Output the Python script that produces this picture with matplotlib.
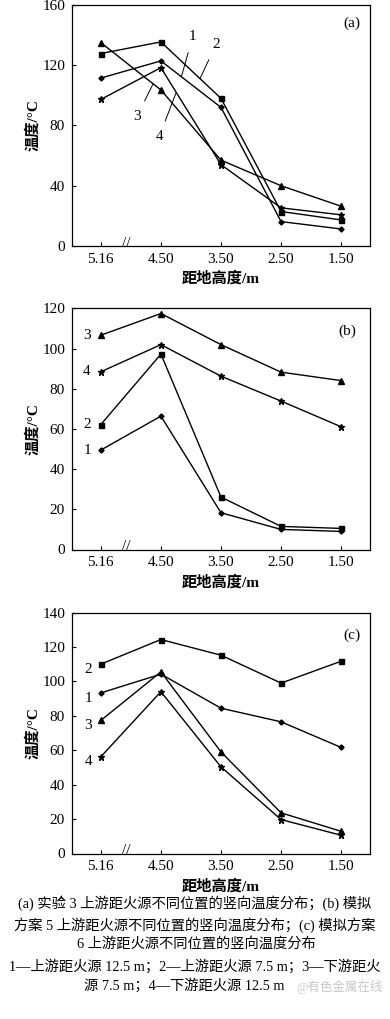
import numpy as np
import matplotlib
matplotlib.use('Agg')
import matplotlib.pyplot as plt
import matplotlib.transforms as mtransforms

plt.rcParams['font.family'] = ['Liberation Serif', 'Noto Sans CJK SC', 'DejaVu Sans']
plt.rcParams['axes.unicode_minus'] = False

# 横轴：距地高度 /m
heights = ['5.16', '4.50', '3.50', '2.50', '1.50']

# (a) 实验 3
a_s1 = [111.5, 122.9, 92.0, 16.2, 11.3]
a_s2 = [127.8, 135.5, 98.0, 22.9, 17.3]
a_s3 = [135.0, 103.6, 57.0, 40.0, 26.4]
a_s4 = [97.3, 118.4, 54.0, 25.3, 20.7]

# (b) 模拟方案 5
b_s1 = [49.5, 66.4, 18.3, 10.0, 9.0]
b_s2 = [62.2, 97.3, 26.1, 11.5, 10.5]
b_s3 = [106.7, 117.5, 102.0, 88.3, 84.1]
b_s4 = [88.5, 102.0, 86.3, 73.9, 61.1]

# (c) 模拟方案 6
c_s1 = [93.3, 104.2, 84.4, 76.5, 61.6]
c_s2 = [110.0, 124.3, 115.2, 99.0, 111.7]
c_s3 = [77.3, 105.5, 59.0, 23.6, 12.9]
c_s4 = [56.2, 94.0, 50.3, 19.7, 10.6]

markers = {1: ('D', 2.6), 2: ('s', 3.6), 3: ('^', 3.8), 4: ('*', 4.6)}

W, H = 390, 1019
fig = plt.figure(figsize=(W / 100, H / 100), dpi=100)


def make_axes(top_px, ymax, ystep, tag, tag_xy):
    ax = fig.add_axes([72 / W, 1 - (top_px + 241) / H, 298 / W, 241 / H])
    ax.set_xlim(-0.48, 4.48)
    ax.set_ylim(0, ymax)
    ax.set_xticks(range(len(heights)))
    ax.set_xticklabels(heights)
    ax.set_yticks(np.arange(0, ymax + 1, ystep))
    ax.tick_params(direction='in', length=3, width=0.8, labelsize=11, pad=5)
    for sp in ax.spines.values():
        sp.set_linewidth(0.9)
    ax.set_xlabel('距地高度/m', fontsize=11, fontweight='bold')
    ax.xaxis.set_label_coords(0.5, -0.105)
    ax.set_ylabel('温度/°C', fontsize=11, fontweight='bold')
    ax.yaxis.set_label_coords(-0.108, 0.5)
    ax.text(tag_xy[0], tag_xy[1], tag, transform=ax.transAxes, fontsize=11,
            ha='center', va='center')
    # 横轴断开符号
    trans = mtransforms.blended_transform_factory(ax.transData, ax.transAxes)
    ax.text(0.42, 0.012, '//', transform=trans, fontsize=11, ha='center', va='center')
    return ax


def draw(ax, series):
    for k, vals in series.items():
        m, ms = markers[k]
        ax.plot(range(len(heights)), vals, color='black', lw=1.0,
                marker=m, ms=ms, mfc='black', mec='black')


# ---- (a)
ax_a = make_axes(5, 160, 40, '(a)', (0.94, 0.925))
draw(ax_a, {1: a_s1, 2: a_s2, 3: a_s3, 4: a_s4})
lead = dict(arrowstyle='-', lw=0.7, color='black', shrinkA=5, shrinkB=0)
x1 = 1.34
ax_a.annotate('1', xy=(x1, np.interp(x1, range(5), a_s1)), xytext=(1.53, 139),
              fontsize=11, ha='center', va='center', arrowprops=lead)
x2 = 1.65
ax_a.annotate('2', xy=(x2, np.interp(x2, range(5), a_s2)), xytext=(1.92, 134),
              fontsize=11, ha='center', va='center', arrowprops=lead)
x3 = 0.87
ax_a.annotate('3', xy=(x3, np.interp(x3, range(5), a_s3)), xytext=(0.6, 86),
              fontsize=11, ha='center', va='center', arrowprops=lead)
x4 = 1.255
ax_a.annotate('4', xy=(x4, np.interp(x4, range(5), a_s4)), xytext=(0.97, 72.5),
              fontsize=11, ha='center', va='center', arrowprops=lead)

# ---- (b)
ax_b = make_axes(308.5, 120, 20, '(b)', (0.925, 0.905))
draw(ax_b, {1: b_s1, 2: b_s2, 3: b_s3, 4: b_s4})
for k, v in zip([3, 4, 2, 1], [b_s3, b_s4, b_s2, b_s1]):
    ax_b.text(-0.23, v[0], str(k), fontsize=11, ha='center', va='center')

# ---- (c)
ax_c = make_axes(612.5, 140, 20, '(c)', (0.94, 0.905))
draw(ax_c, {1: c_s1, 2: c_s2, 3: c_s3, 4: c_s4})
for k, v in zip([2, 1, 3, 4], [c_s2, c_s1, c_s3, c_s4]):
    ax_c.text(-0.21, v[0] - 3, str(k), fontsize=11, ha='center', va='center')

# ---- 图注
cap = [
    ('(a) 实验 3 上游距火源不同位置的竖向温度分布；(b) 模拟', 195, 903),
    ('方案 5 上游距火源不同位置的竖向温度分布；(c) 模拟方案', 195, 925),
    ('6 上游距火源不同位置的竖向温度分布', 196, 944),
    ('1—上游距火源 12.5 m；2—上游距火源 7.5 m；3—下游距火', 195, 967),
    ('源 7.5 m；4—下游距火源 12.5 m', 184, 986),
]
for txt, x, y in cap:
    fig.text(x / W, 1 - y / H, txt, fontsize=10.3, ha='center', va='center')
fig.text(340 / W, 1 - 987 / H, '@有色金属在线', fontsize=9, color='#c8c8c8',
         ha='center', va='center')

fig.savefig('out.png', dpi=100)
